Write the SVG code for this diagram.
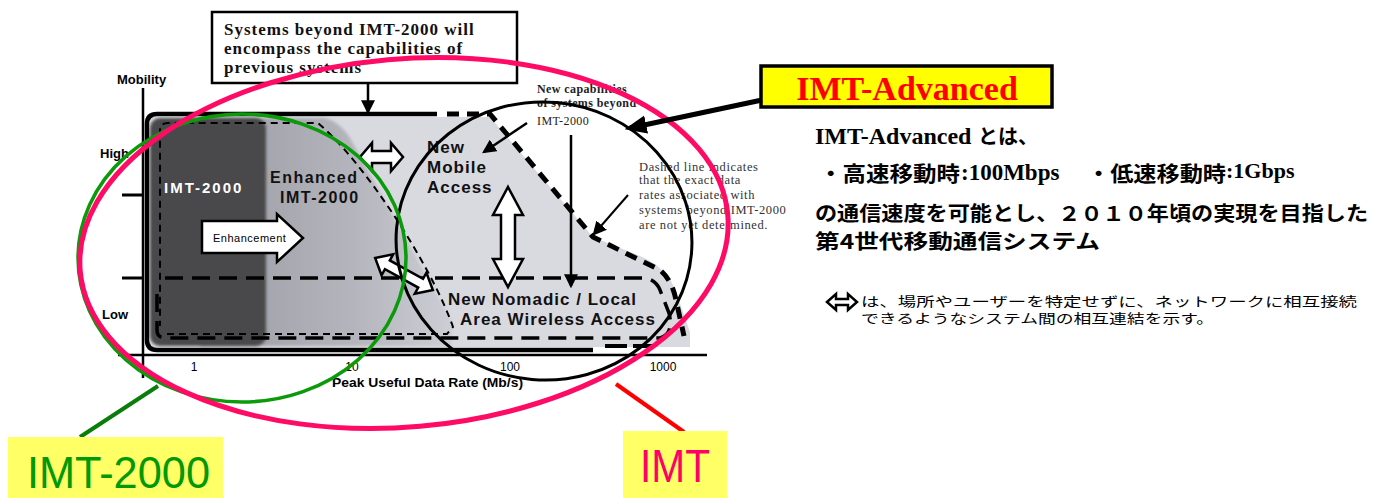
<svg xmlns="http://www.w3.org/2000/svg" width="1387" height="498" viewBox="0 0 1387 498">
<defs>
<style>
.sans{font-family:"Liberation Sans",Arial,sans-serif}
.serif{font-family:"Liberation Serif","Times New Roman",serif}
.jp{font-family:"Noto Sans CJK JP","Noto Sans",sans-serif}
.blk{fill:#fff;stroke:#000;stroke-width:2.5;stroke-linejoin:miter}
.ln{stroke:#000;fill:none}
.b{font-weight:bold}
</style>
<linearGradient id="mid" x1="0" x2="1" y1="0" y2="0">
<stop offset="0" stop-color="#9a9aa2"/>
<stop offset="0.6" stop-color="#b4b4bc"/>
<stop offset="1" stop-color="#cdced5"/>
</linearGradient>
<filter id="soft" x="-5%" y="-5%" width="110%" height="110%"><feGaussianBlur stdDeviation="1.6"/></filter>
<marker id="ah" viewBox="0 0 12 12" refX="10" refY="6" markerWidth="14" markerHeight="14" markerUnits="userSpaceOnUse" orient="auto"><path d="M0,0 L12,6 L0,12 Z" fill="#000"/></marker>
<marker id="ahBig" viewBox="0 0 12 12" refX="9" refY="6" markerWidth="22" markerHeight="22" markerUnits="userSpaceOnUse" orient="auto"><path d="M0,1 L12,6 L0,11 Z" fill="#000"/></marker>
</defs>
<rect width="1387" height="498" fill="#fff"/>

<g id="graph">
<path d="M150,117 L490,117 L593,237 L640,256 Q668,268 676,292 L690,332 L690,347 L150,347 Z" fill="#d9d9e0"/>
<path d="M200,118 L325,118 Q340,122 350,138 L452,322 L452,346 L200,346 Z" fill="url(#mid)" filter="url(#soft)"/>
<rect x="150" y="118" width="116" height="228" rx="10" fill="#4a4a4c" filter="url(#soft)"/>
<path class="ln" d="M593,350 L157,350 Q147,350 147,340 L147,124 Q147,114 157,114 L437,114" stroke-width="4.5"/>
<path class="ln" d="M143,88 L143,378 M118,355 L707,355" stroke-width="2.5"/>
<path class="ln" d="M122,195 L143,195 M122,278 L143,278" stroke-width="3"/>
<path class="ln" d="M447,114 L490,114 L593,237 L660,270 Q672,280 676,300 L684,336" stroke-width="5" stroke-dasharray="12 8"/>
<path class="ln" d="M605,346 L657,346" stroke-width="4" stroke-dasharray="22 6"/>
<path class="ln" d="M165,278 L645,278 Q656,280 660,290 L669,313 Q674,334 660,338 L166,338 Q157,338 157,330 L157,286" stroke-width="3.5" stroke-dasharray="18 9"/>
<path class="ln" d="M167,334 L447,334 L453,327 C430,262 362,160 318,123 L168,123 Q160,123 160,131 L160,326" stroke-width="2" stroke-dasharray="7 5"/>
<text class="sans b" x="164" y="193" font-size="15" letter-spacing="2" fill="#fff">IMT-2000</text>
<text class="sans b" x="270" y="183" font-size="16" letter-spacing="1.5" fill="#111">Enhanced</text>
<text class="sans b" x="280" y="203" font-size="16" letter-spacing="1.5" fill="#111">IMT-2000</text>
<polygon class="blk" points="202,221 277,221 277,214 303,238 277,262 277,253 202,253"/>
<text class="sans" x="213" y="242" font-size="11" letter-spacing="0.5">Enhancement</text>
<polygon class="blk" points="360,157 372,143 372,151 391,151 391,143 403,157 391,171 391,163 372,163 372,171"/>
<polygon class="blk" points="508,187 523,215 515,215 515,259 523,259 508,287 493,259 501,259 501,215 493,215"/>
<polygon class="blk" transform="translate(404,274) rotate(29)" points="-33,0 -19,-12 -19,-5 19,-5 19,-12 33,0 19,12 19,5 -19,5 -19,12"/>
<text class="sans b" font-size="17" letter-spacing="1" fill="#111"><tspan x="427" y="153">New</tspan><tspan x="427" y="173">Mobile</tspan><tspan x="427" y="193">Access</tspan></text>
<text class="sans b" font-size="17" letter-spacing="1" fill="#111"><tspan x="448" y="305">New Nomadic / Local</tspan><tspan x="460" y="325">Area Wireless Access</tspan></text>
<text class="sans b" x="117" y="84" font-size="13">Mobility</text>
<text class="sans b" x="100" y="158" font-size="13">High</text>
<text class="sans b" x="102" y="319" font-size="13">Low</text>
<g class="sans" font-size="12" text-anchor="middle">
<text x="194" y="371">1</text><text x="352" y="371">10</text><text x="510" y="371">100</text><text x="663" y="371">1000</text>
</g>
<text class="sans b" x="332" y="387" font-size="13" textLength="191" lengthAdjust="spacingAndGlyphs">Peak Useful Data Rate (Mb/s)</text>
<text class="serif b" font-size="12" letter-spacing="0.4" fill="#222"><tspan x="537" y="93">New capabilities</tspan><tspan x="537" y="107">of systems beyond</tspan></text>
<text class="serif" x="537" y="125" font-size="12" letter-spacing="0.4" fill="#222">IMT-2000</text>
<text class="serif" font-size="12.5" letter-spacing="0.6" fill="#333">
<tspan x="639" y="171">Dashed line indicates</tspan>
<tspan x="639" y="184">that the exact data</tspan>
<tspan x="639" y="199">rates associated with</tspan>
<tspan x="639" y="214">systems beyond IMT-2000</tspan>
<tspan x="639" y="229">are not yet determined.</tspan>
</text>
</g>

<g id="box-systems">
<rect x="212" y="12" width="305" height="71" fill="#fff" stroke="#000" stroke-width="2.5"/>
<text class="serif b" font-size="17" letter-spacing="1" fill="#111">
<tspan x="224" y="35">Systems beyond IMT-2000 will</tspan>
<tspan x="224" y="54">encompass the capabilities of</tspan>
<tspan x="224" y="73">previous systems</tspan>
</text>
</g>

<g id="imt-advanced-label">
<rect x="761" y="66" width="291" height="41" fill="#ffff00" stroke="#000" stroke-width="3.5"/>
<text class="serif b" x="907" y="100" font-size="34" fill="#ff0000" text-anchor="middle">IMT-Advanced</text>
</g>

<g id="ellipses" fill="none">
<ellipse cx="544" cy="241" rx="148" ry="139" stroke="#000" stroke-width="3" transform="rotate(5 544 241)"/>
<ellipse cx="242" cy="258" rx="164" ry="144" stroke="#0a9a0a" stroke-width="3.5"/>
<ellipse cx="404" cy="243" rx="325" ry="184" stroke="#ff0a64" stroke-width="5" transform="rotate(-5 404 243)"/>
</g>

<g id="connectors" fill="none">
<path class="ln" d="M368,83 L368,112" stroke-width="2.5" marker-end="url(#ah)"/>
<path class="ln" d="M527,123 L484,152" stroke-width="2.5" marker-end="url(#ah)"/>
<path class="ln" d="M571,135 L571,286" stroke-width="2.5" marker-end="url(#ah)"/>
<path class="ln" d="M628,195 L594,234" stroke-width="2" marker-end="url(#ah)"/>
<path class="ln" d="M762,100 L630,128" stroke-width="5" marker-end="url(#ahBig)"/>
<path d="M158,386 L80,437" stroke="#0a7d0a" stroke-width="4"/>
<path d="M616,384 L684,432" stroke="#ff0000" stroke-width="4"/>
</g>

<g id="imt-2000-label">
<rect x="8" y="437" width="215" height="61" fill="#ffff66"/>
<text class="sans" x="27" y="488" font-size="45" fill="#009900" textLength="183" lengthAdjust="spacingAndGlyphs">IMT-2000</text>
</g>

<g id="imt-label">
<rect x="623" y="431" width="104" height="67" fill="#ffff66"/>
<text class="sans" x="640" y="482" font-size="46" fill="#ff0066" textLength="70" lengthAdjust="spacingAndGlyphs">IMT</text>
</g>

<g id="jp-text" font-weight="bold">
<text class="serif" x="815" y="144" font-size="24">IMT-Advanced</text>
<text class="jp" x="978" y="144" font-size="20">とは、</text>
<text class="jp" x="819" y="181" font-size="21" textLength="141" lengthAdjust="spacingAndGlyphs">・高速移動時</text>
<text class="serif" x="961" y="180" font-size="23">:100Mbps</text>
<text class="jp" x="1087" y="181" font-size="21" textLength="139" lengthAdjust="spacingAndGlyphs">・低速移動時</text>
<text class="serif" x="1226" y="178" font-size="22">:1Gbps</text>
<text class="jp" x="815" y="221" font-size="20" textLength="553" lengthAdjust="spacingAndGlyphs">の通信速度を可能とし、２０１０年頃の実現を目指した</text>
<text class="jp" x="815" y="249" font-size="20" textLength="285" lengthAdjust="spacingAndGlyphs">第4世代移動通信システム</text>
</g>

<g id="legend">
<polygon class="blk" points="827,302 836,294 836,299 848,299 848,294 857,302 848,310 848,305 836,305 836,310" stroke-width="2.8"/>
<text class="jp" x="861" y="306" font-size="13" textLength="496" lengthAdjust="spacingAndGlyphs">は、場所やユーザーを特定せずに、ネットワークに相互接続</text>
<text class="jp" x="861" y="323" font-size="13" textLength="353" lengthAdjust="spacingAndGlyphs">できるようなシステム間の相互連結を示す。</text>
</g>
</svg>
